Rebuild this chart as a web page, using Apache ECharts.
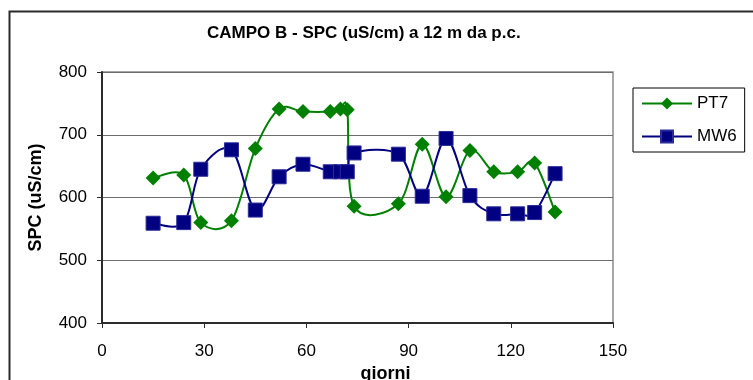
<!DOCTYPE html>
<html>
<head>
<meta charset="utf-8">
<script src="https://cdn.jsdelivr.net/npm/echarts@6/dist/echarts.min.js"></script>
<style>
  html, body { margin: 0; padding: 0; background: #fff; }
  #chart { width: 753px; height: 380px; }
</style>
</head>
<body>
<div id="chart"></div>
<script>
// Sampling days (giorni) for the two wells
const daysPT7 = [15, 24, 29, 38, 45, 52, 59, 67, 70, 72, 74, 87, 94, 101, 108, 115, 122, 127, 133];
const daysMW6 = [15, 24, 29, 38, 45, 52, 59, 67, 70, 72, 74, 87, 94, 101, 108, 115, 122, 127, 133];

// Specific conductance, uS/cm, at 12 m below ground level
const spcPT7 = [631, 636, 560, 563, 678, 741, 737, 737, 741, 740, 586, 590, 685, 601, 675, 641, 641, 655, 577];
const spcMW6 = [559, 560, 645, 676, 580, 633, 653, 641, 641, 641, 671, 669, 602, 694, 603, 574, 574, 576, 638];

const seriesNames = ['PT7', 'MW6'];
const seriesColors = ['#008000', '#000080'];
const xTicks = [0, 30, 60, 90, 120, 150];
const yTicks = [400, 500, 600, 700, 800];

const pairs = (xs, ys) => xs.map((x, i) => [x, ys[i]]);

const FONT = '"Liberation Sans", Arial, sans-serif';

// Cardinal (Catmull-Rom) bezier through the projected points, in the
// style of spreadsheet "smoothed line" charts.
function smoothPath(pts) {
  let d = 'M' + pts[0][0] + ' ' + pts[0][1];
  for (let i = 0; i < pts.length - 1; i++) {
    const p0 = pts[Math.max(i - 1, 0)];
    const p1 = pts[i];
    const p2 = pts[i + 1];
    const p3 = pts[Math.min(i + 2, pts.length - 1)];
    const c1x = p1[0] + (p2[0] - p0[0]) / 6;
    const c1y = p1[1] + (p2[1] - p0[1]) / 6;
    const c2x = p2[0] - (p3[0] - p1[0]) / 6;
    const c2y = p2[1] - (p3[1] - p1[1]) / 6;
    d += ' C' + c1x + ' ' + c1y + ' ' + c2x + ' ' + c2y + ' ' + p2[0] + ' ' + p2[1];
  }
  return d;
}

function curveSeries(name, xs, ys, color) {
  return {
    name: name,
    type: 'custom',
    coordinateSystem: 'cartesian2d',
    data: pairs(xs, ys),
    encode: { x: 0, y: 1 },
    z: 1,
    silent: true,
    renderItem: function (params, api) {
      if (params.dataIndex !== 0) return null;
      const pts = xs.map((x, i) => api.coord([x, ys[i]]));
      return {
        type: 'path',
        shape: { pathData: smoothPath(pts) },
        style: { fill: 'none', stroke: color, lineWidth: 2 }
      };
    }
  };
}

function markerSeries(name, xs, ys, color, symbol, size, extraStyle) {
  return {
    name: name,
    type: 'line',
    data: pairs(xs, ys),
    symbol: symbol,
    symbolSize: size,
    color: color,
    lineStyle: { color: color, width: 2, opacity: 0 },
    itemStyle: Object.assign({ color: color }, extraStyle || {}),
    z: 3
  };
}

const chart = echarts.init(document.getElementById('chart'), null, { renderer: 'canvas' });

chart.setOption({
  animation: false,
  backgroundColor: '#ffffff',
  title: {
    text: 'CAMPO B - SPC (uS/cm) a 12 m da p.c.',
    left: 207,
    top: 25,
    padding: 0,
    textStyle: { fontFamily: FONT, fontSize: 17, fontWeight: 'bold', color: '#000' }
  },
  graphic: [
    {
      type: 'rect',
      left: 7,
      top: 9,
      shape: { width: 800, height: 420 },
      style: { fill: 'none', stroke: '#2b2b2b', lineWidth: 2 },
      silent: true,
      z: -1
    }
  ],
  legend: {
    orient: 'vertical',
    left: 633,
    top: 88,
    width: 112,
    padding: [7, 8, 7, 8],
    itemGap: 16,
    itemWidth: 50,
    itemHeight: 15,
    borderColor: '#000',
    borderWidth: 1,
    backgroundColor: '#fff',
    data: seriesNames.map((n, i) => ({
      name: n,
      lineStyle: { color: seriesColors[i], width: 2, opacity: 1 }
    })),
    textStyle: { fontFamily: FONT, fontSize: 17, color: '#000' }
  },
  grid: {
    left: 102,
    right: 140,
    top: 72,
    bottom: 57,
    show: true,
    borderColor: '#8a8a8a',
    borderWidth: 1.5,
    containLabel: false,
    outerBoundsMode: 'none'
  },
  xAxis: {
    type: 'value',
    min: xTicks[0],
    max: xTicks[xTicks.length - 1],
    interval: 30,
    name: 'giorni',
    nameLocation: 'middle',
    nameGap: 40,
    nameTextStyle: { fontFamily: FONT, fontSize: 18, fontWeight: 'bold', color: '#000', padding: [0, 0, 0, 56] },
    axisLine: { show: true, onZero: false, lineStyle: { color: '#2b2b2b', width: 2 } },
    axisTick: { show: true, inside: false, length: 5, lineStyle: { color: '#2b2b2b', width: 1 } },
    axisLabel: { margin: 20, fontFamily: FONT, fontSize: 17, color: '#000' },
    splitLine: { show: false }
  },
  yAxis: {
    type: 'value',
    min: yTicks[0],
    max: yTicks[yTicks.length - 1],
    interval: 100,
    name: 'SPC (uS/cm)',
    nameLocation: 'middle',
    nameGap: 57,
    nameRotate: 90,
    nameTextStyle: { fontFamily: FONT, fontSize: 18, fontWeight: 'bold', color: '#000' },
    axisLine: { show: true, onZero: false, lineStyle: { color: '#2b2b2b', width: 2 } },
    axisTick: { show: true, inside: false, length: 5, lineStyle: { color: '#2b2b2b', width: 1 } },
    axisLabel: { margin: 15, fontFamily: FONT, fontSize: 17, color: '#000' },
    splitLine: { show: true, lineStyle: { color: '#6e6e6e', width: 1 } }
  },
  series: [
    markerSeries(seriesNames[0], daysPT7, spcPT7, seriesColors[0], 'diamond', 15),
    markerSeries(seriesNames[1], daysMW6, spcMW6, seriesColors[1], 'rect', 14, { borderColor: '#2b2b9a', borderWidth: 1 }),
    curveSeries(seriesNames[0], daysPT7, spcPT7, seriesColors[0]),
    curveSeries(seriesNames[1], daysMW6, spcMW6, seriesColors[1])
  ]
});
</script>
</body>
</html>
